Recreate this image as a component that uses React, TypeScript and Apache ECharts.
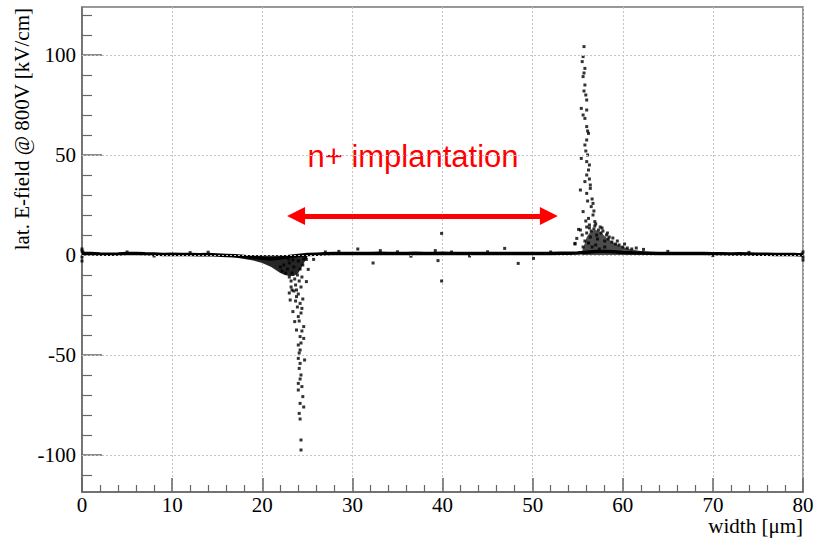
import React, { useEffect, useRef } from "react";
import * as echarts from "echarts";

// ---- axis definitions ----
const xMin = 0;
const xMax = 80;
const xInterval = 10;
const yMin = -118.5;
const yMax = 124;
const yMajor = [-100, -50, 0, 50, 100];
const yMinor = [-110, -90, -80, -70, -60, -40, -30, -20, -10, 10, 20, 30, 40, 60, 70, 80, 90, 110, 120];

const yTitle = "lat. E-field @ 800V [kV/cm]";
const xTitle = "width [\u03bcm]";
const annotation = "n+ implantation";
const arrowX = [23.75, 51.8];
const arrowY = 19.5;

// ---- baseline (dense band of field values along the width) ----
const baseX = [
  0, 1, 2, 3, 4, 5, 6, 7, 8, 9, 10, 11, 12, 13, 14, 15, 16, 17, 18, 19, 20,
  21, 22, 23, 24, 25, 26, 27, 28, 29, 30, 31, 32, 33, 34, 35, 36, 37, 38, 39, 40,
  41, 42, 43, 44, 45, 46, 47, 48, 49, 50, 51, 52, 53, 54, 55, 56, 57, 58, 59, 60,
  61, 62, 63, 64, 65, 66, 67, 68, 69, 70, 71, 72, 73, 74, 75, 76, 77, 78, 79, 80,
];
const baseY = [
  0.8, 0.7, 0.5, 0.4, 0.5, 0.7, 0.8, 0.6, 0.5, 0.3, 0.4, 0.2, 0.3, 0.1, 0.2, 0.0, -0.2, -0.4, -0.8, -1.2, -1.6,
  -2.0, -1.5, -0.8, -0.2, 0.2, 0.4, 0.6, 0.7, 0.8, 0.8, 0.7, 0.8, 0.9, 0.8, 0.8, 0.7, 0.9, 0.8, 0.8, 0.9,
  0.8, 0.8, 0.7, 0.8, 0.8, 0.7, 0.8, 0.7, 0.8, 0.8, 0.7, 0.8, 0.9, 0.9, 1.0, 1.4, 1.8, 1.8, 1.6, 1.3,
  1.1, 1.0, 0.9, 0.8, 0.8, 0.7, 0.7, 0.8, 0.7, 0.6, 0.6, 0.5, 0.6, 0.5, 0.4, 0.4, 0.3, 0.3, 0.2, 0.0,
];

// lower envelope of the dense cloud before the negative peak
const wedgeX = [15, 16, 17, 18, 19, 20, 21, 21.5, 22, 22.5, 23, 23.5, 24, 24.5, 25];
const wedgeY = [-0.3, -0.6, -1.2, -2.0, -2.8, -4.0, -6.0, -7.5, -9.0, -10.0, -10.5, -10.5, -9.0, -5.0, -1.0];

// upper envelope of the dense cloud after the positive peak
const bandX = [55.5, 55.8, 56, 56.5, 57, 57.5, 58, 58.5, 59, 59.5, 60, 61, 62, 63, 64];
const bandY = [2, 6, 9, 12, 12.5, 11.5, 9.5, 7.5, 6, 5, 4, 2.8, 2, 1.5, 1.2];

// ---- scattered points ----
const negPeak = [
  [22.0, -6], [22.2, -8], [22.4, -5], [22.6, -9], [22.8, -7], [23.0, -11], [23.0, -4], [23.2, -13],
  [23.3, -9], [23.5, -6], [23.6, -12], [23.7, -15], [23.9, -10], [24.0, -3], [24.1, -13], [24.2, -7],
  [24.3, -16], [24.4, -11], [24.5, -5], [24.6, -2], [23.4, -2.5], [22.9, -2], [24.8, -1.5], [23.8, -17.5],
  [23.2, -16], [25.1, -7.2], [24.9, -13.3], [23.1, -22.5], [23.3, -17.5], [23.8, -20.8], [24.2, -24.2],
  [24.4, -26.7], [23.4, -28.3], [24.0, -30.8], [23.6, -33.3], [24.6, -35.8], [23.8, -37.5], [24.2, -40.8],
  [24.6, -41.7], [24.0, -45], [24.2, -47.5], [24.7, -52.5], [24.0, -51.7], [24.2, -54.2], [24.1, -56.7],
  [24.0, -64.2], [24.4, -65.8], [24.0, -67.5], [24.5, -70.8], [24.2, -74.2], [24.1, -79.2], [24.3, -92.5],
  [24.3, -97.5], [23.0, -19], [23.5, -18], [24.0, -19.5], [23.7, -23], [24.5, -22], [23.9, -26], [24.3, -29],
  [24.1, -33], [24.4, -38], [24.3, -44], [24.1, -49], [24.3, -60], [24.2, -62], [24.6, -76], [24.2, -82],
];

const posPeak = [
  [55.7, 104.2], [55.6, 99.2], [55.5, 96.7], [55.8, 93.3], [55.6, 89.2], [55.8, 85], [55.7, 82], [56.0, 77.5],
  [55.4, 73.3], [56.0, 72.5], [55.8, 68.3], [56.0, 64.2], [56.2, 60.8], [56.0, 57.5], [55.8, 55], [55.4, 48.3],
  [56.0, 46.7], [56.3, 45], [56.2, 42.5], [55.8, 36.7], [56.4, 35], [55.3, 32.5], [56.4, 33.3], [56.0, 30.8],
  [56.7, 25.8], [56.5, 24.2], [55.6, 21.7], [56.7, 20], [56.2, 18.3], [56.9, 16.7], [55.3, 12.5], [54.9, 8.3],
  [54.7, 5.8], [57.3, 12.5], [57.1, 10], [55.1, 12.8], [54.7, 5.5], [55.7, 91], [55.9, 80], [55.6, 70],
  [56.1, 62], [55.9, 52], [56.1, 50], [56.0, 40], [56.3, 38], [56.6, 28], [56.1, 27], [56.8, 22], [56.3, 15],
  [56.0, 14], [57.5, 14], [57.8, 12], [58.2, 10], [58.5, 9], [55.9, 17], [55.5, 10], [56.5, 12],
  [56.0, 11], [56.4, 9], [56.8, 13], [57.2, 8], [57.6, 11], [58.0, 7], [58.4, 8], [58.8, 6.5], [59.2, 5.5],
  [59.6, 5], [60.0, 4], [60.5, 3.5], [61.0, 3], [56.2, 6], [56.6, 4], [57.0, 5], [57.4, 3], [58.0, 4],
  [55.8, 7], [55.6, 4], [56.9, 14.5], [57.7, 13.5], [58.3, 11], [58.9, 8.5], [59.4, 7], [60.2, 5.5],
  [61.5, 3.5], [62.3, 2.8], [56.3, 13.5], [57.0, 15.5],
];

const strays = [
  [30.6, 3], [32.3, -4], [33.1, 2.2], [39.9, 10.8], [39.9, -13], [39.5, -2.8], [39.2, 2.2], [46.9, 3.3],
  [48.4, -4.2], [50.1, -1.7], [24.9, -2.2], [25.7, -2.2], [27, 1.5], [28.5, 1.8], [35, 1.6], [36.5, -0.6],
  [41, 1.5], [43, -0.5], [45, 1.6], [52, 1.5], [5, 1.5], [8, -0.5], [12, 1.2], [14, 1.4], [65, 1.8],
  [70, -0.3], [74, 1.3], [0, 3], [0, 2], [0, -1], [0, -3], [0.1, 1.5], [80, 1.5], [80, -1], [80, -2.5],
  [79.9, 0.5],
];

const SERIF = '"Liberation Serif", "DejaVu Serif", serif';
const SANS = '"Liberation Sans", Arial, sans-serif';
const AXIS_GRAY = "#666";
const GRID_GRAY = "#c4c4c4";

function pairs(xs: number[], ys: number[]) {
  return xs.map((x, i) => [x, ys[i]]);
}

export default function App() {
  const ref = useRef<HTMLDivElement>(null);
  useEffect(() => {
    if (!ref.current) return;
    const chart = echarts.init(ref.current, null, { renderer: "svg" });
    const option: any = {
      animation: false,
      backgroundColor: "#fff",
      grid: {
        left: 82,
        top: 7,
        right: 18,
        bottom: 48,
        show: true,
        borderColor: "#777",
        borderWidth: 1.5,
      },
      xAxis: {
        type: "value",
        min: xMin,
        max: xMax,
        interval: xInterval,
        axisLine: { show: true, onZero: false, lineStyle: { color: AXIS_GRAY, width: 1.5 } },
        axisTick: { show: true, inside: true, length: 14, lineStyle: { color: AXIS_GRAY, width: 1.5 } },
        minorTick: { show: true, splitNumber: 5, length: 7, lineStyle: { color: AXIS_GRAY, width: 1.2 } },
        axisLabel: { fontFamily: SERIF, fontSize: 21, color: "#000", margin: 2 },
        splitLine: { show: true, lineStyle: { color: GRID_GRAY, width: 1, type: [2, 2] } },
      },
      yAxis: [
        {
          type: "value",
          min: yMin,
          max: yMax,
          position: "left",
          axisLine: { show: true, onZero: false, lineStyle: { color: AXIS_GRAY, width: 1.5 } },
          axisTick: { show: true, inside: true, length: 20, customValues: yMajor, lineStyle: { color: AXIS_GRAY, width: 1.5 } },
          axisLabel: { customValues: yMajor, fontFamily: SERIF, fontSize: 21, color: "#000", margin: 6 },
          splitLine: { show: false },
        },
        {
          type: "value",
          min: yMin,
          max: yMax,
          position: "left",
          axisLine: { show: false },
          axisTick: { show: true, inside: true, length: 10, customValues: yMinor, lineStyle: { color: AXIS_GRAY, width: 1.2 } },
          axisLabel: { show: false },
          splitLine: { show: false },
        },
      ],
      series: [
        {
          type: "line",
          name: "grid",
          data: [],
          silent: true,
          markLine: {
            silent: true,
            symbol: "none",
            label: { show: false },
            lineStyle: { color: GRID_GRAY, width: 1, type: [2, 2] },
            data: yMajor.map((v) => ({ yAxis: v })),
          },
          z: 1,
        },
        {
          type: "line",
          name: "wedge",
          data: pairs(wedgeX, wedgeY),
          showSymbol: false,
          lineStyle: { width: 0 },
          areaStyle: { color: "#000", opacity: 0.85 },
          z: 2,
        },
        {
          type: "line",
          name: "band",
          data: pairs(bandX, bandY),
          showSymbol: false,
          lineStyle: { width: 0 },
          areaStyle: { color: "#000", opacity: 0.7 },
          z: 2,
        },
        {
          type: "line",
          name: "baseline",
          data: pairs(baseX, baseY),
          showSymbol: false,
          lineStyle: { color: "#000", width: 3.5 },
          z: 3,
        },
        {
          type: "scatter",
          name: "points",
          data: [...negPeak, ...posPeak, ...strays],
          symbol: "rect",
          symbolSize: 3,
          itemStyle: { color: "#000" },
          z: 4,
        },
        {
          type: "line",
          name: "arrow",
          data: [],
          markLine: {
            silent: true,
            symbol: ["triangle", "triangle"],
            symbolSize: [18, 18],
            label: { show: false },
            lineStyle: { color: "#ff0000", width: 5, type: "solid" },
            data: [[{ coord: [arrowX[0], arrowY] }, { coord: [arrowX[1], arrowY] }]],
          },
          z: 5,
        },
      ],
      graphic: [
        {
          type: "text",
          x: 22,
          y: 8,
          rotation: Math.PI / 2,
          style: {
            text: yTitle,
            font: `21px ${SERIF}`,
            fill: "#000",
            textAlign: "right",
            textVerticalAlign: "middle",
          },
        },
        {
          type: "text",
          x: 803,
          y: 526,
          style: {
            text: xTitle,
            font: `21px ${SERIF}`,
            fill: "#000",
            textAlign: "right",
            textVerticalAlign: "middle",
          },
        },
        {
          type: "text",
          x: 413,
          y: 156,
          style: {
            text: annotation,
            font: `31px ${SANS}`,
            fill: "#ff0000",
            textAlign: "center",
            textVerticalAlign: "middle",
          },
        },
      ],
    };
    chart.setOption(option);
    return () => chart.dispose();
  }, []);
  return (
    <div
      ref={ref}
      style={{ position: "absolute", left: 0, top: 0, width: 821, height: 540 }}
    />
  );
}
